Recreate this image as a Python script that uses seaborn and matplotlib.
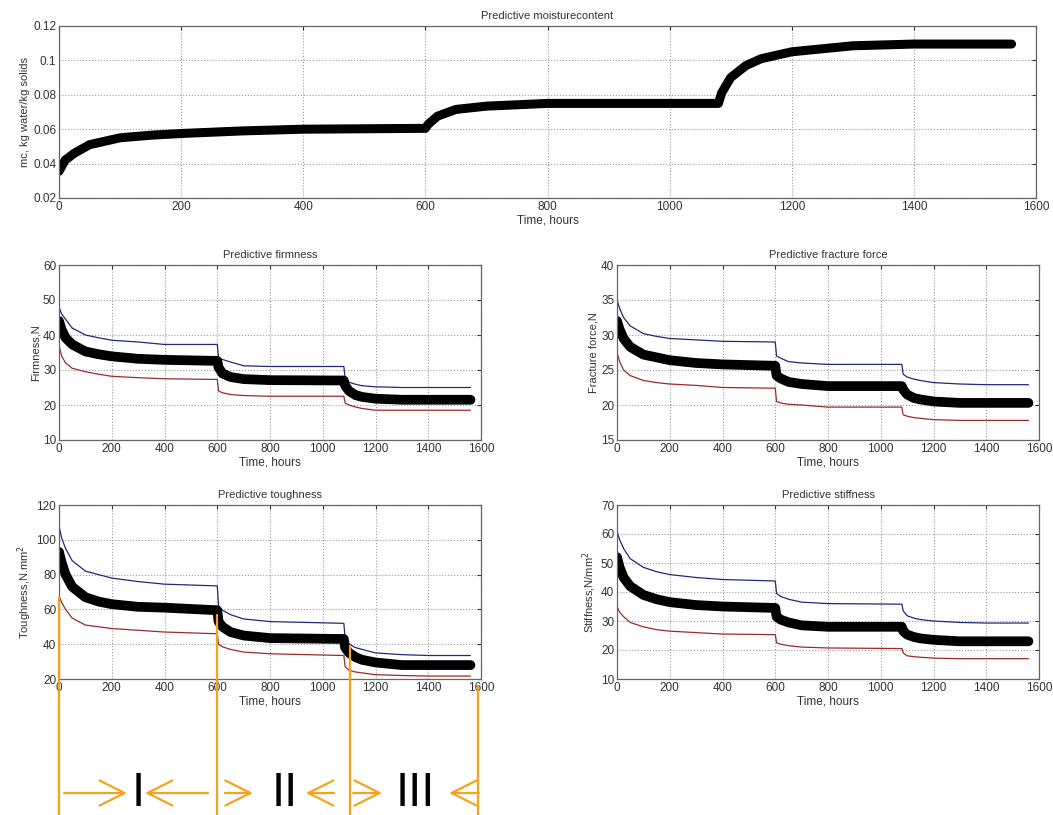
import matplotlib
matplotlib.use("Agg")
import matplotlib.pyplot as plt
import seaborn as sns
from matplotlib.transforms import blended_transform_factory

# sample times (hours)
TIME = [0, 10, 25, 50, 100, 150, 200, 300, 400, 600, 605, 620, 650, 700,
        800, 1080, 1085, 1100, 1125, 1150, 1200, 1300, 1400, 1560]

moisture = [0.0355, 0.042, 0.046, 0.051, 0.055, 0.0565, 0.0575, 0.059, 0.060, 0.0605,
            0.063, 0.0676, 0.0715, 0.0734, 0.075, 0.075, 0.081, 0.090, 0.097, 0.101,
            0.105, 0.1085, 0.1095, 0.1095]

firm_mean = [44, 41.5, 39.2, 37.3, 35.3, 34.5, 33.9, 33.2, 32.9, 32.6, 30.7, 29.0,
             28.0, 27.4, 27.1, 27.0, 25.5, 24.0, 22.8, 22.3, 21.8, 21.5, 21.5, 21.5]
firm_upper = [48, 46, 44.5, 42, 40, 39.2, 38.5, 38, 37.3, 37.3, 33.5, 33, 32.3, 31.2,
              31, 31, 27.5, 26.5, 25.9, 25.5, 25.2, 25, 25, 25]
firm_lower = [37, 34, 32, 30.5, 29.5, 28.8, 28.2, 27.8, 27.5, 27.3, 24, 23.5, 23, 22.7,
              22.5, 22.5, 20.5, 20, 19.4, 19, 18.5, 18.5, 18.5, 18.5]

frac_mean = [32, 30.8, 29.5, 28.3, 27.2, 26.8, 26.4, 26.0, 25.8, 25.6, 24.2, 23.8, 23.3,
             23.0, 22.7, 22.7, 22.2, 21.5, 21.0, 20.8, 20.5, 20.3, 20.3, 20.3]
frac_upper = [35, 33.8, 32.5, 31.3, 30.2, 29.8, 29.5, 29.3, 29.1, 29.0, 27, 26.7, 26.2,
              26, 25.8, 25.8, 24.4, 24, 23.7, 23.5, 23.2, 23, 22.9, 22.9]
frac_lower = [27.5, 26.2, 25, 24.2, 23.5, 23.2, 23, 22.8, 22.5, 22.4, 20.5, 20.3, 20.1,
              20, 19.7, 19.7, 18.6, 18.4, 18.2, 18.1, 17.9, 17.8, 17.8, 17.8]

tough_mean = [93, 87, 80, 73, 67, 64.5, 63, 61.5, 61, 59.5, 53, 50, 47, 45, 43.5, 43,
              38, 35, 32.5, 31, 29.5, 28, 28, 28]
tough_upper = [108, 101, 95, 88, 82, 80, 78, 76, 74.5, 73.5, 62, 59.5, 57, 54.5, 53, 52,
               43, 40, 38, 37, 35, 34, 33.5, 33.5]
tough_lower = [68, 64, 60, 55, 51, 50, 49, 48, 47, 46, 40, 38.5, 37, 35.5, 34.5, 33.5,
               27, 25, 24, 23.5, 22.5, 22, 21.7, 21.7]

stiff_mean = [52, 48.5, 45, 42, 39, 37.5, 36.5, 35.5, 35, 34.5, 31.5, 30.5, 29.5, 28.5,
              28, 28, 26.5, 25.3, 24.5, 24, 23.5, 23, 23, 23]
stiff_upper = [61, 58, 55, 51.5, 48.5, 47, 46, 45, 44.3, 43.8, 39.5, 38.5, 37.5, 36.5,
               36, 35.8, 33.5, 31.8, 31, 30.5, 30, 29.5, 29.3, 29.3]
stiff_lower = [35, 33, 31.5, 29.5, 28, 27, 26.5, 26, 25.5, 25.3, 22.5, 22, 21.5, 21,
               20.7, 20.5, 19, 18, 17.7, 17.5, 17.2, 17, 17, 17]

# storage stage markers (toughness panel coordinates)
stage_x = [0, 600, 1105, 1590]
stage_y = [67, 57, 39, 16]
stage_labels = ["I", "II", "III"]
stage_label_x = [300, 857, 1350]
stage_arrows = [(19, 258), (565, 326), (629, 735), (1043, 936), (1115, 1225), (1592, 1479)]

sns.set_style("white")
plt.rcParams["font.family"] = ["Liberation Sans", "DejaVu Sans"]

fig = plt.figure(figsize=(10.53, 8.15), dpi=100)
W, H = 1053, 815


def px_axes(l, t, r, b):
    return fig.add_axes([l / W, 1 - b / H, (r - l) / W, (b - t) / H])


def style(ax, title, ylabel, ylim, yticks, yfmt=None):
    ax.set_xlim(0, 1600)
    ax.set_xticks(range(0, 1601, 200))
    ax.set_ylim(*ylim)
    ax.set_yticks(yticks)
    if yfmt is not None:
        ax.set_yticklabels(yfmt)
    ax.grid(True, linestyle=":", color="#9a9a9a", linewidth=0.8)
    ax.tick_params(direction="in", length=3, labelsize=8.5, colors="#333333",
                   top=True, right=True, pad=2)
    for s in ax.spines.values():
        s.set_color("#666666")
        s.set_linewidth(0.9)
    ax.set_title(title, fontsize=8, color="#333333", pad=5)
    ax.set_xlabel("Time, hours", fontsize=8.5, color="#333333", labelpad=1)
    ax.set_ylabel(ylabel, fontsize=8, color="#333333", labelpad=2)


def draw_band(ax, mean, upper, lower):
    sns.lineplot(x=TIME, y=upper, ax=ax, color="#1f2a7a", linewidth=0.9)
    sns.lineplot(x=TIME, y=lower, ax=ax, color="#9c2a2a", linewidth=0.9)
    sns.lineplot(x=TIME, y=mean, ax=ax, color="black", linewidth=7,
                 solid_capstyle="round", solid_joinstyle="round")


ax_mc = px_axes(59, 26, 1036, 198)
sns.lineplot(x=TIME, y=moisture, ax=ax_mc, color="black", linewidth=6.5,
             solid_capstyle="round", solid_joinstyle="round")
style(ax_mc, "Predictive moisturecontent", "mc, kg water/kg solids", (0.02, 0.12),
      [0.02, 0.04, 0.06, 0.08, 0.1, 0.12],
      ["0.02", "0.04", "0.06", "0.08", "0.1", "0.12"])

ax_f = px_axes(59, 265, 481, 440)
draw_band(ax_f, firm_mean, firm_upper, firm_lower)
style(ax_f, "Predictive firmness", "Firmness,N", (10, 60), range(10, 61, 10))

ax_ff = px_axes(617, 265, 1039, 440)
draw_band(ax_ff, frac_mean, frac_upper, frac_lower)
style(ax_ff, "Predictive fracture force", "Fracture force,N", (15, 40), range(15, 41, 5))

ax_t = px_axes(59, 505, 481, 679)
draw_band(ax_t, tough_mean, tough_upper, tough_lower)
style(ax_t, "Predictive toughness", "Toughness,N.mm$^2$", (20, 120), range(20, 121, 20))

ax_s = px_axes(617, 505, 1039, 679)
draw_band(ax_s, stiff_mean, stiff_upper, stiff_lower)
style(ax_s, "Predictive stiffness", "Stiffness,N/mm$^2$", (10, 70), range(10, 71, 10))

# orange stage annotation below the toughness panel
orange = "#f7a21b"
trans = blended_transform_factory(ax_t.transData, fig.transFigure)
for x, y in zip(stage_x, stage_y):
    y_fig = fig.transFigure.inverted().transform(ax_t.transData.transform((x, y)))[1]
    fig.add_artist(plt.Line2D([x, x], [y_fig, 0], transform=trans, color=orange,
                              linewidth=1.6, clip_on=False))
arrow_y = 1 - 793 / H
for x0, x1 in stage_arrows:
    ax_t.annotate("", xy=(x1, arrow_y), xytext=(x0, arrow_y),
                  xycoords=trans, textcoords=trans,
                  arrowprops=dict(arrowstyle="->,head_length=0.9,head_width=0.45",
                                  color=orange, linewidth=1.6, mutation_scale=20,
                                  shrinkA=0, shrinkB=0),
                  annotation_clip=False)
for x, lab in zip(stage_label_x, stage_labels):
    ax_t.text(x, arrow_y, lab, transform=trans, ha="center", va="center",
              fontsize=32, color="black", family=["DejaVu Sans"], clip_on=False)

fig.savefig("out.png", dpi=100)
